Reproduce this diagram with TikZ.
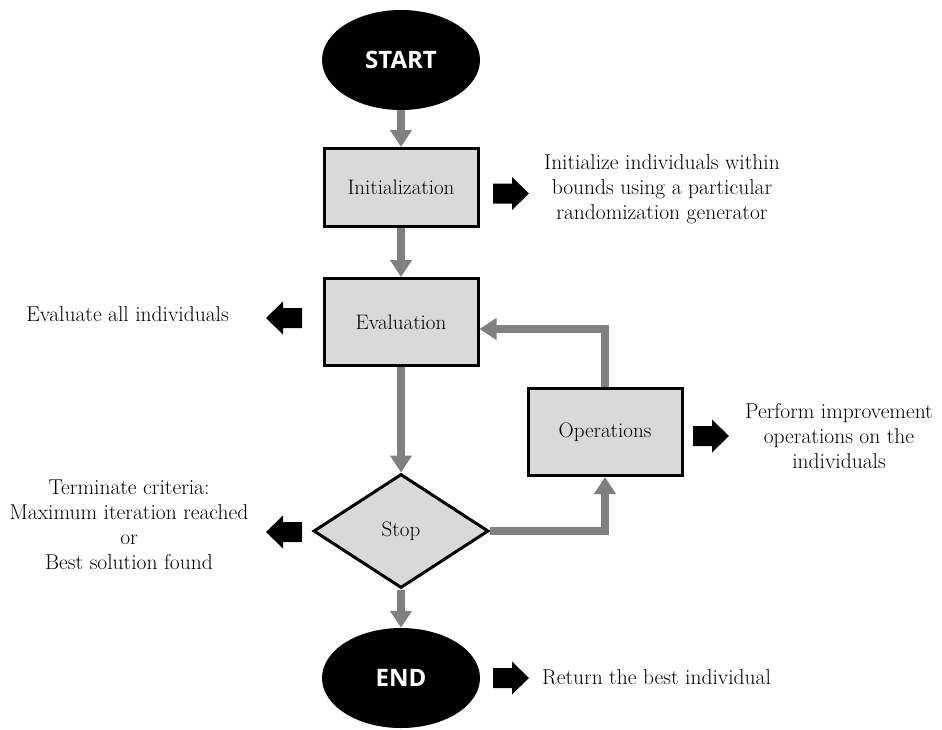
\documentclass[tikz,border=0pt]{standalone}
\usepackage{fontspec}
\newfontfamily\termfont{Open Sans}
\usetikzlibrary{arrows.meta,shapes.geometric}
\definecolor{linegray}{HTML}{808080}
\definecolor{boxgray}{HTML}{D9D9D9}
\tikzset{
  term/.style={ellipse, fill=black, text=white, inner sep=0pt,
    minimum width=158pt, minimum height=100pt,
    font=\termfont\bfseries\fontsize{24}{28}\selectfont},
  procbox/.style={rectangle, draw=black, line width=3pt, fill=boxgray,
    inner sep=0pt, minimum width=154pt, minimum height=87pt,
    font=\fontsize{21}{25}\selectfont},
  decbox/.style={diamond, draw=black, line width=3pt, fill=boxgray,
    inner sep=0pt, minimum width=175pt, minimum height=114pt,
    font=\fontsize{21}{25}\selectfont},
  desc/.style={align=center, inner sep=0pt, font=\fontsize{21.5}{25}\selectfont},
  conn/.style={draw=linegray, line width=8pt,
    -{Triangle[width=21pt,length=17pt,fill=linegray]}},
  barrow/.pic={\fill[black] (0,-10) -- (19,-10) -- (19,-16.5) -- (36,0)
     -- (19,16.5) -- (19,10) -- (0,10) -- cycle;}
}
\begin{document}
\begin{tikzpicture}[x=1pt,y=-1pt]
\useasboundingbox (0,0) rectangle (942,729);
% main nodes
\node[term] (start) at (401,60) {START};
\node[procbox, minimum height=78pt] (init) at (401,187.5) {Initialization};
\node[procbox] (eval) at (401,322) {Evaluation};
\node[decbox] (stop) at (401,531) {Stop};
\node[procbox] (ops) at (605,432) {Operations};
\node[term] (fin) at (401,678) {END};
% connectors
\draw[conn] (start) -- (init);
\draw[conn] (init) -- (eval);
\draw[conn] (eval) -- (stop);
\draw[conn] (stop) -- (fin);
\draw[conn] (stop.east) -| (ops.south);
\draw[conn] (ops.north) |- ([yshift=-7pt]eval.east);
% block arrows
\pic at (493,193.5) {barrow};
\pic[xscale=-1] at (302,318) {barrow};
\pic at (693,436) {barrow};
\pic[xscale=-1] at (302,532) {barrow};
\pic at (493,678) {barrow};
% descriptions
\node[desc] (tinit) at (662,189) {Initialize individuals within\\bounds using a particular\\randomization generator};
\node[desc, anchor=east] (teval) at (229,314) {Evaluate all individuals};
\node[desc] (tops) at (839,436) {Perform improvement\\operations on the\\individuals};
\node[desc] (tstop) at (129,525) {Terminate criteria:\\Maximum iteration reached\\or\\Best solution found};
\node[desc, anchor=west] (tend) at (542,677) {Return the best individual};
\end{tikzpicture}
\end{document}
